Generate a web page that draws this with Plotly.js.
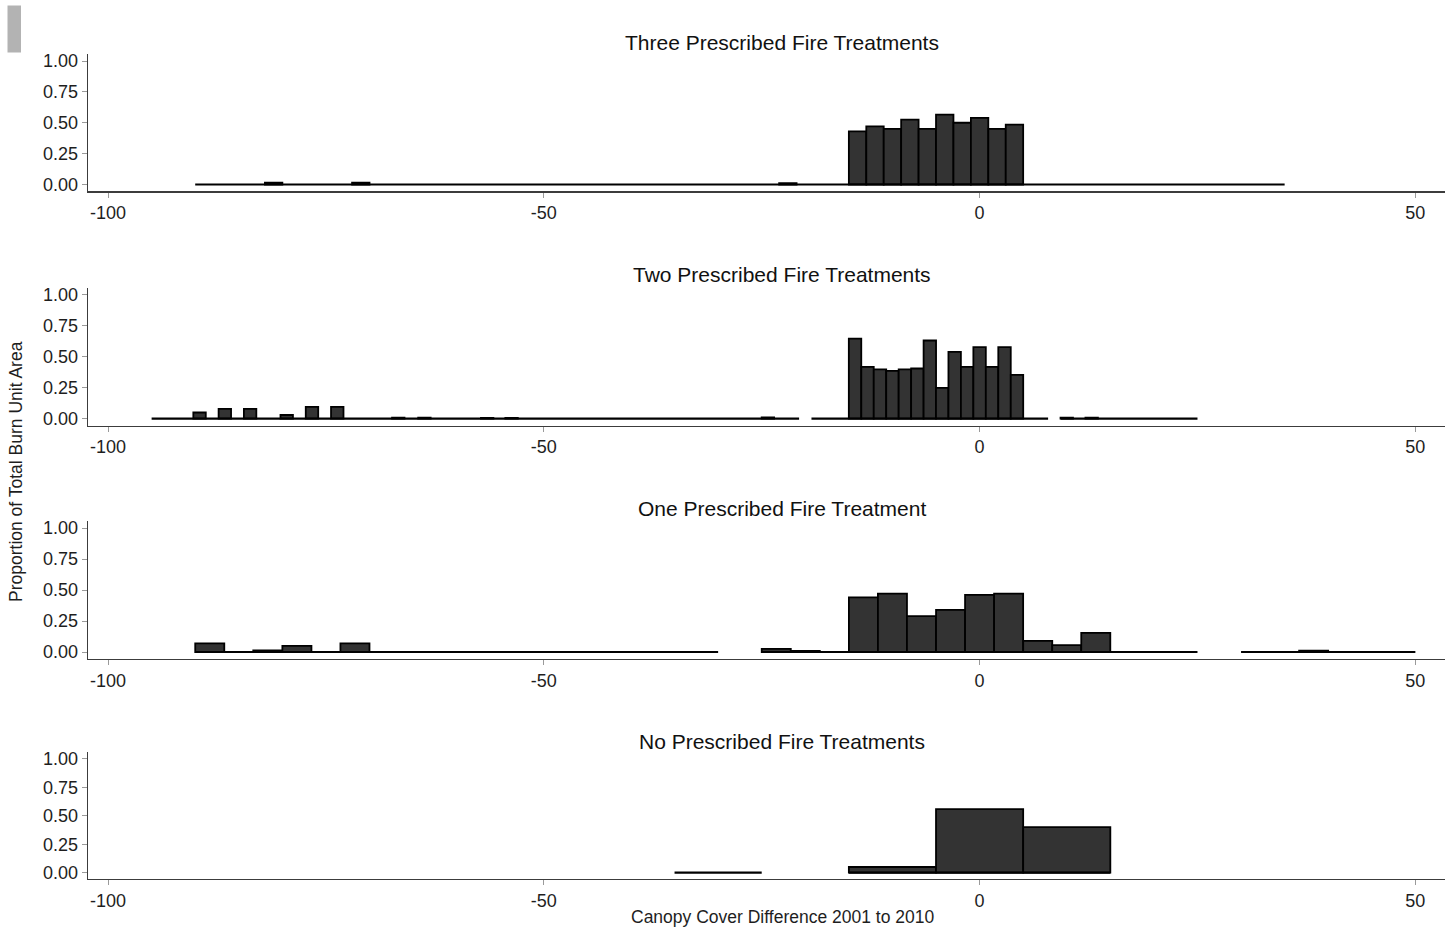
<!DOCTYPE html>
<html>
<head>
<meta charset="utf-8">
<script src="https://cdn.plot.ly/plotly-3.0.1.min.js"></script>
<style>
  html, body { margin: 0; padding: 0; background: #ffffff; }
  #chart { width: 1455px; height: 930px; }
</style>
</head>
<body>
<div id="chart"></div>
<script>
// ---------------- data ----------------
const panelTitles = [
  "Three Prescribed Fire Treatments",
  "Two Prescribed Fire Treatments",
  "One Prescribed Fire Treatment",
  "No Prescribed Fire Treatments"
];
const xTitle = "Canopy Cover Difference 2001 to 2010";
const yTitle = "Proportion of Total Burn Unit Area";
const xTickVals = [-100, -50, 0, 50];
const xTickText = ["-100", "-50", "0", "50"];
const yTickVals = [0, 0.25, 0.5, 0.75, 1];
const yTickText = ["0.00", "0.25", "0.50", "0.75", "1.00"];

// Three treatments: bin width 2
const threeBinWidth = 2;
const threeCenters = [-81, -71, -22, -14, -12, -10, -8, -6, -4, -2, 0, 2, 4];
const threeValues  = [0.014, 0.014, 0.01, 0.43, 0.47, 0.45, 0.525, 0.45, 0.565, 0.50, 0.54, 0.45, 0.485];
const threeSpans   = [[-90, 35]];

// Two treatments: bin width 10/7
const twoBinWidth = 1.4286;
const twoCenters = [-89.5, -86.6, -83.7, -79.5, -76.6, -73.7, -66.7, -63.7, -56.5, -53.7, -24.29,
                    -14.29, -12.86, -11.43, -10.0, -8.57, -7.14, -5.71, -4.29, -2.86, -1.43, 0, 1.43, 2.86, 4.29,
                    10.0, 12.86];
const twoValues  = [0.05, 0.08, 0.08, 0.03, 0.095, 0.095, 0.008, 0.008, 0.006, 0.006, 0.01,
                    0.648, 0.419, 0.398, 0.386, 0.398, 0.406, 0.632, 0.25, 0.54, 0.419, 0.578, 0.419, 0.578, 0.355,
                    0.008, 0.008];
const twoSpans   = [[-95, -20.71], [-19.29, 7.86], [9.29, 25]];

// One treatment: bin width 10/3
const oneBinWidth = 3.3333;
const oneCenters = [-88.33, -81.67, -78.33, -71.67, -23.33, -20.0,
                    -13.33, -10.0, -6.67, -3.33, 0, 3.33, 6.67, 10.0, 13.33, 38.33];
const oneValues  = [0.07, 0.012, 0.05, 0.07, 0.025, 0.008,
                    0.44, 0.47, 0.29, 0.34, 0.46, 0.47, 0.09, 0.055, 0.155, 0.01];
const oneSpans   = [[-90, -30], [-25, 25], [30, 50]];

// No treatments: bin width 10
const noBinWidth = 10;
const noCenters = [-10, 0, 10];
const noValues  = [0.05, 0.56, 0.40];
const noSpans   = [[-35, -25], [-15, 15]];

// ---------------- layout helpers (pixel geometry) ----------------
const W = 1455, H = 930;
const yRange = [-0.055, 1.06];
const xRange = [-102.3, 53.4];
const plotLeftPx = 88, plotRightPx = 1445;
// pixel rows of value 0 and value 1 for each panel
const zeroPx = [184.5, 418.7, 652.0, 872.7];
const onePx  = [61.0, 295.0, 528.0, 759.0];
const titlePx = [42, 275, 508, 741];
const titleXPx = 782;

const FONT = "Liberation Sans, Arial, Helvetica, sans-serif";
const BAR_FILL = "#333333";
const BAR_LINE = "#000000";

const panels = [
  {c: threeCenters, v: threeValues, w: threeBinWidth, s: threeSpans},
  {c: twoCenters,   v: twoValues,   w: twoBinWidth,   s: twoSpans},
  {c: oneCenters,   v: oneValues,   w: oneBinWidth,   s: oneSpans},
  {c: noCenters,    v: noValues,    w: noBinWidth,    s: noSpans}
];

const data = [];
const layout = {
  width: W, height: H,
  margin: {l: 0, r: 0, t: 0, b: 0},
  paper_bgcolor: "#ffffff",
  plot_bgcolor: "rgba(0,0,0,0)",
  showlegend: false,
  barmode: "overlay",
  font: {family: FONT, color: "#222222"},
  annotations: [],
  shapes: [{
    type: "rect", xref: "paper", yref: "paper",
    x0: 7.5 / W, x1: 21 / W, y0: 1 - 52.5 / H, y1: 1 - 5.5 / H,
    fillcolor: "#b3b3b3", line: {width: 0}
  }]
};

panels.forEach((p, i) => {
  const n = i + 1;
  const xa = n === 1 ? "x" : "x" + n;
  const ya = n === 1 ? "y" : "y" + n;
  const s = zeroPx[i] - onePx[i];
  const botPx = zeroPx[i] + (0 - yRange[0]) * s;
  const topPx = onePx[i] - (yRange[1] - 1) * s;

  // baseline of empty bins (zero-height bars drawn as a line)
  const bx = [], by = [];
  p.s.forEach(seg => { bx.push(seg[0], seg[1], null); by.push(0, 0, null); });
  data.push({
    type: "scatter", mode: "lines", x: bx, y: by, xaxis: xa, yaxis: ya,
    line: {color: "#000000", width: 2.2}, hoverinfo: "skip", cliponaxis: false
  });

  data.push({
    type: "bar", x: p.c, y: p.v, width: p.w, xaxis: xa, yaxis: ya,
    marker: {color: BAR_FILL, line: {color: BAR_LINE, width: 1.8}},
    hoverinfo: "x+y"
  });

  const axBase = {
    showgrid: false, zeroline: false, showline: true,
    linecolor: "#3c3c3c", linewidth: 1.3,
    ticks: "outside", ticklen: 5, tickwidth: 1, tickcolor: "#9a9a9a",
    tickfont: {family: FONT, size: 18, color: "#1e1e1e"},
    fixedrange: true
  };
  layout[n === 1 ? "xaxis" : "xaxis" + n] = Object.assign({}, axBase, {
    domain: [plotLeftPx / W, plotRightPx / W],
    range: xRange, tickmode: "array", tickvals: xTickVals, ticktext: xTickText,
    anchor: ya
  });
  layout[n === 1 ? "yaxis" : "yaxis" + n] = Object.assign({}, axBase, {
    domain: [1 - botPx / H, 1 - topPx / H],
    range: yRange, tickmode: "array", tickvals: yTickVals, ticktext: yTickText,
    anchor: xa
  });

  layout.annotations.push({
    text: panelTitles[i], xref: "paper", yref: "paper",
    x: titleXPx / W, y: 1 - titlePx[i] / H,
    xanchor: "center", yanchor: "middle", showarrow: false,
    font: {family: FONT, size: 21, color: "#111111"}
  });
});

layout.annotations.push({
  text: xTitle, xref: "paper", yref: "paper",
  x: titleXPx / W, y: 1 - 917 / H, xanchor: "center", yanchor: "middle",
  showarrow: false, font: {family: FONT, size: 17.5, color: "#1e1e1e"}
});
layout.annotations.push({
  text: yTitle, xref: "paper", yref: "paper",
  x: 16 / W, y: 1 - 472 / H, xanchor: "center", yanchor: "middle",
  textangle: -90, showarrow: false, font: {family: FONT, size: 17.5, color: "#1e1e1e"}
});

Plotly.newPlot("chart", data, layout, {displayModeBar: false, staticPlot: true});
</script>
</body>
</html>
